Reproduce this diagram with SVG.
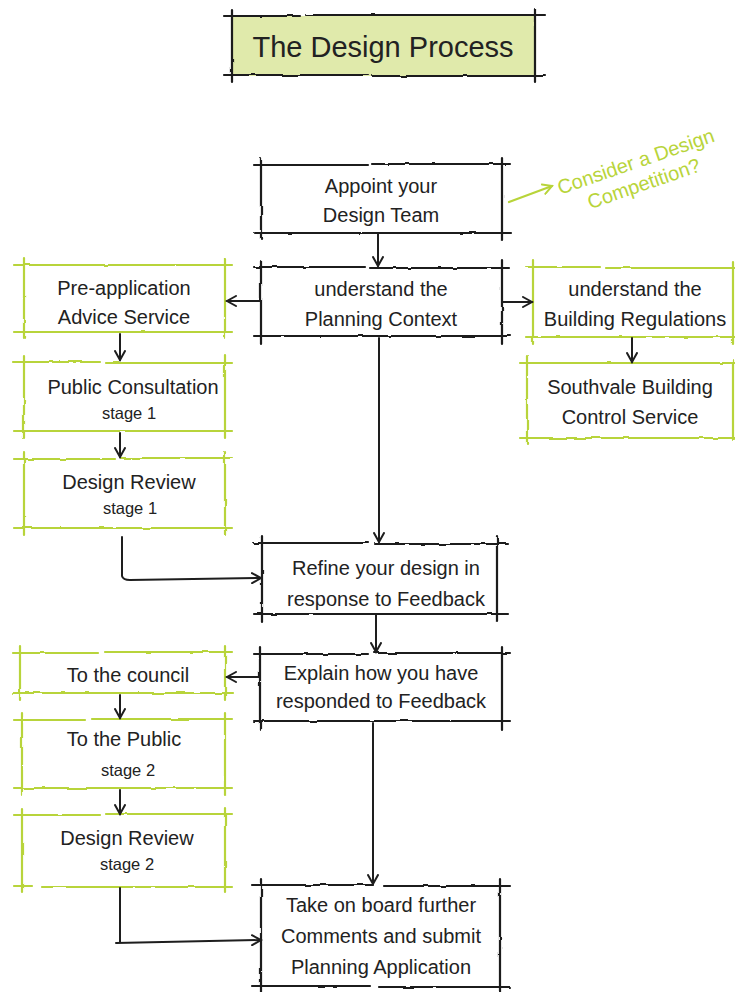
<svg xmlns="http://www.w3.org/2000/svg" width="735" height="992" viewBox="0 0 735 992">
<style>
.k{fill:none;stroke:#1e1e1e;stroke-width:2.2;stroke-linecap:round;stroke-linejoin:round}
.g{fill:none;stroke:#b8d43a;stroke-width:2.2;stroke-linecap:round}
.c{fill:none;stroke:#1e1e1e;stroke-width:2;stroke-linecap:round}
.t{font-family:"Liberation Sans","DejaVu Sans",sans-serif;font-size:20px;fill:#222;text-anchor:middle}
.s{font-size:16.5px}
.gt{font-family:"Liberation Sans","DejaVu Sans",sans-serif;font-size:20px;fill:#b8d43a;text-anchor:middle}
</style>
<defs>
<filter id="r" x="-5%" y="-5%" width="110%" height="110%">
<feTurbulence type="fractalNoise" baseFrequency="0.06" numOctaves="2" seed="3"/>
<feDisplacementMap in="SourceGraphic" scale="2.5" xChannelSelector="R" yChannelSelector="G"/>
</filter>
<marker id="a" viewBox="0 0 12 12" refX="10" refY="6" markerWidth="12" markerHeight="12" markerUnits="userSpaceOnUse" orient="auto">
<path d="M1,1 L10,6 L1,11" fill="none" stroke="#1e1e1e" stroke-width="2" stroke-linecap="round"/>
</marker>
<marker id="ag" viewBox="0 0 12 12" refX="10" refY="6" markerWidth="12" markerHeight="12" markerUnits="userSpaceOnUse" orient="auto">
<path d="M1,1 L10,6 L1,11" fill="none" stroke="#b8d43a" stroke-width="2" stroke-linecap="round"/>
</marker>
</defs>
<rect width="735" height="992" fill="#fff"/>

<g id="title">
<rect x="232" y="16" width="303" height="60" fill="#e0eaab"/>
<path class="k" filter="url(#r)" d="M224 16 H300 M306 15 H545 M224 75 H368 M372 76 H545 M232 10 V82 M535 8 V82"/>
<text class="t" x="383" y="57" style="font-size:29px">The Design Process</text>
</g>

<g id="consider">
<text class="gt" transform="translate(638,168) rotate(-19)">Consider a Design</text>
<text class="gt" transform="translate(646,190) rotate(-19)">Competition?</text>
</g>

<g id="appoint">
<path class="k" filter="url(#r)" d="M254 165 H368 M372 164 H510 M254 233 H510 M261 158 V240 M502 158 V240"/>
<text class="t" x="381" y="193">Appoint your</text>
<text class="t" x="381" y="222">Design Team</text>
</g>

<g id="planning">
<path class="k" filter="url(#r)" d="M254 267 H365 M370 268 H510 M254 336 H510 M261 260 V344 M502 260 V344"/>
<text class="t" x="381" y="296">understand the</text>
<text class="t" x="381" y="326">Planning Context</text>
</g>

<g id="buildingregs">
<path class="g" filter="url(#r)" d="M526 267 H600 M606 268 H735 M526 337 H735 M533 260 V344 M733 262 V344"/>
<text class="t" x="635" y="296">understand the</text>
<text class="t" x="635" y="326">Building Regulations</text>
</g>

<g id="southvale">
<path class="g" filter="url(#r)" d="M520 363 H735 M520 438 H735 M527 356 V444 M733 360 V440"/>
<text class="t" x="630" y="394">Southvale Building</text>
<text class="t" x="630" y="424">Control Service</text>
</g>

<g id="preapp">
<path class="g" filter="url(#r)" d="M14 265 H232 M14 332 H232 M24 258 V338 M225 258 V338"/>
<text class="t" x="124" y="295">Pre-application</text>
<text class="t" x="124" y="324">Advice Service</text>
</g>

<g id="publicconsult">
<path class="g" filter="url(#r)" d="M14 362 H100 M106 363 H232 M14 431 H232 M24 356 V438 M225 356 V438"/>
<text class="t" x="133" y="394">Public Consultation</text>
<text class="t s" x="129" y="419">stage 1</text>
</g>

<g id="review1">
<path class="g" filter="url(#r)" d="M14 459 H115 M121 458 H232 M14 528 H232 M24 452 V535 M225 452 V535"/>
<text class="t" x="129" y="489">Design Review</text>
<text class="t s" x="130" y="514">stage 1</text>
</g>

<g id="refine">
<path class="k" filter="url(#r)" d="M254 543 H368 M374 544 H508 M254 614 H508 M262 536 V622 M497 536 V622"/>
<text class="t" x="386" y="575">Refine your design in</text>
<text class="t" x="386" y="606">response to Feedback</text>
</g>

<g id="explain">
<path class="k" filter="url(#r)" d="M254 654 H368 M374 653 H510 M254 721 H510 M260 647 V730 M502 647 V730"/>
<text class="t" x="381" y="680">Explain how you have</text>
<text class="t" x="381" y="708">responded to Feedback</text>
</g>

<g id="council">
<path class="g" filter="url(#r)" d="M13 653 H98 M105 652 H232 M13 693 H232 M20 646 V700 M225 646 V700"/>
<text class="t" x="128" y="682">To the council</text>
</g>

<g id="public2">
<path class="g" filter="url(#r)" d="M14 720 H85 M92 719 H232 M14 788 H232 M22 713 V795 M225 713 V795"/>
<text class="t" x="124" y="746">To the Public</text>
<text class="t s" x="128" y="776">stage 2</text>
</g>

<g id="review2">
<path class="g" filter="url(#r)" d="M14 815 H100 M106 814 H232 M14 886 H32 M42 887 H232 M22 808 V892 M225 808 V892"/>
<text class="t" x="127" y="845">Design Review</text>
<text class="t s" x="127" y="870">stage 2</text>
</g>

<g id="submit">
<path class="k" filter="url(#r)" d="M252 885 H373 M384 886 H510 M252 986 H370 M378 987 H510 M261 879 V992 M500 879 V992"/>
<text class="t" x="381" y="912">Take on board further</text>
<text class="t" x="381" y="943">Comments and submit</text>
<text class="t" x="381" y="974">Planning Application</text>
</g>

<g id="connectors">
<path class="c" marker-end="url(#a)" d="M378 234 V266"/>
<path class="c" marker-end="url(#a)" d="M260 301 H227"/>
<path class="c" marker-end="url(#a)" d="M503 302 H532"/>
<path class="c" marker-end="url(#a)" d="M632 338 V362"/>
<path class="c" marker-end="url(#a)" d="M120 334 V360"/>
<path class="c" marker-end="url(#a)" d="M120 433 V457"/>
<path class="c" marker-end="url(#a)" d="M379 338 V542"/>
<path class="c" marker-end="url(#a)" d="M122 537 V576 Q123 580 130 580 L261 578"/>
<path class="c" marker-end="url(#a)" d="M376 615 V652"/>
<path class="c" marker-end="url(#a)" d="M260 677 H227"/>
<path class="c" marker-end="url(#a)" d="M120 695 V718"/>
<path class="c" marker-end="url(#a)" d="M120 790 V814"/>
<path class="c" marker-end="url(#a)" d="M373 723 V884"/>
<path class="c" marker-end="url(#a)" d="M120 888 V942 M116 943 L261 940"/>
<path class="g" marker-end="url(#ag)" d="M509 202 L552 186"/>
</g>
</svg>
